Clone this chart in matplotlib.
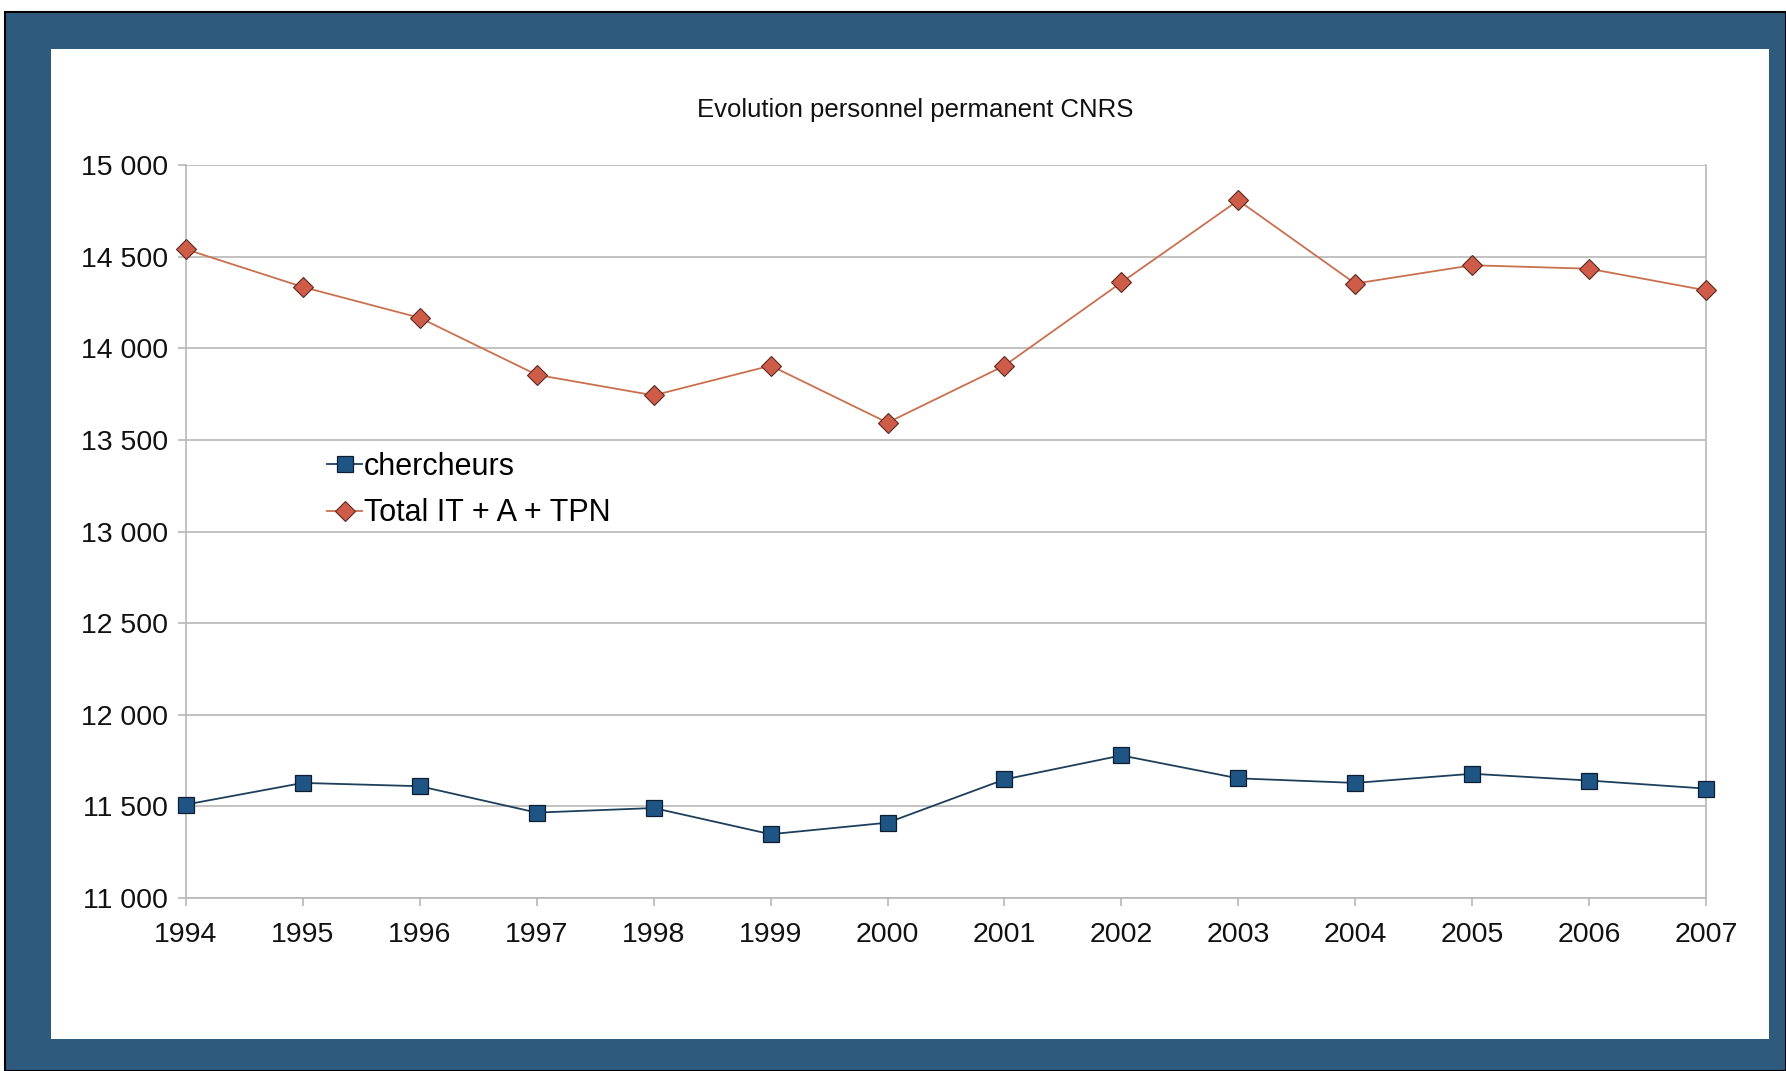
import matplotlib
matplotlib.use("Agg")
import matplotlib.pyplot as plt
from matplotlib.patches import Rectangle
from matplotlib.ticker import FuncFormatter

years = [1994, 1995, 1996, 1997, 1998, 1999, 2000, 2001, 2002, 2003, 2004, 2005, 2006, 2007]
chercheurs = [11510, 11628, 11610, 11466, 11491, 11348, 11411, 11647, 11778, 11653, 11628, 11678, 11641, 11597]
total_it = [14540, 14334, 14166, 13855, 13743, 13905, 13594, 13905, 14359, 14807, 14353, 14453, 14434, 14316]
y_ticks = [11000, 11500, 12000, 12500, 13000, 13500, 14000, 14500, 15000]
title = "Evolution personnel permanent CNRS"
labels = ["chercheurs", "Total IT + A + TPN"]

plt.rcParams['font.family'] = ['Liberation Sans', 'DejaVu Sans']

W, H = 1786, 1071
fig = plt.figure(figsize=(W / 100, H / 100), dpi=100)
fig.patch.set_facecolor('white')

blue = '#2e5a7e'
# outer frame
fig.patches.append(Rectangle((5 / W, 0), 1 - 5 / W, 1 - 12 / H, transform=fig.transFigure,
                             facecolor=blue, edgecolor='black', linewidth=1.5, zorder=0))
# white panel
fig.patches.append(Rectangle((51 / W, 1 - 1039 / H), (1769 - 51) / W, (1039 - 49) / H,
                             transform=fig.transFigure, facecolor='white', edgecolor='none', zorder=1))

ax = fig.add_axes([186 / W, 1 - 898 / H, (1706 - 186) / W, (898 - 165) / H])
ax.set_facecolor('none')
ax.set_zorder(2)

ax.plot(years, total_it, color='#c9704f', linewidth=1.3, marker='D', markersize=10.5,
        markerfacecolor='#cf5c48', markeredgecolor='#5a2a22', markeredgewidth=0.8,
        label=labels[1], zorder=3, clip_on=False)
ax.plot(years, chercheurs, color='#1d3f5a', linewidth=1.3, marker='s', markersize=11.5,
        markerfacecolor='#1f5585', markeredgecolor='#0c1e30', markeredgewidth=0.9,
        label=labels[0], zorder=3, clip_on=False)

ax.set_xlim(years[0], years[-1])
ax.set_ylim(y_ticks[0], y_ticks[-1])
ax.set_xticks(years)
ax.set_yticks(y_ticks)
ax.yaxis.set_major_formatter(FuncFormatter(lambda v, p: f"{int(v):,}".replace(",", " ")))
ax.grid(axis='y', color='#b8b8b8', linewidth=1.2)
ax.set_axisbelow(True)
for s in ['left', 'bottom', 'right']:
    ax.spines[s].set_color('#b8b8b8')
    ax.spines[s].set_linewidth(1.2)
ax.spines['top'].set_visible(False)
ax.tick_params(axis='both', colors='#b8b8b8', labelcolor='#111111', labelsize=20.5, length=6, width=1.2)
ax.tick_params(axis='x', pad=11)
ax.tick_params(axis='y', pad=7)

fig.text(915 / W, 1 - 110 / H, title, ha='center', va='center', fontsize=18.5, color='#111111', zorder=5)

h, l = ax.get_legend_handles_labels()
leg = ax.legend(h[::-1], l[::-1], loc='upper left', bbox_to_anchor=(327 / W, 1 - 452 / H),
                bbox_transform=fig.transFigure, frameon=False, fontsize=22, handlelength=1.15,
                handletextpad=0.05, labelspacing=0.53, borderaxespad=0, borderpad=0)

fig.savefig('out.png', dpi=100)
